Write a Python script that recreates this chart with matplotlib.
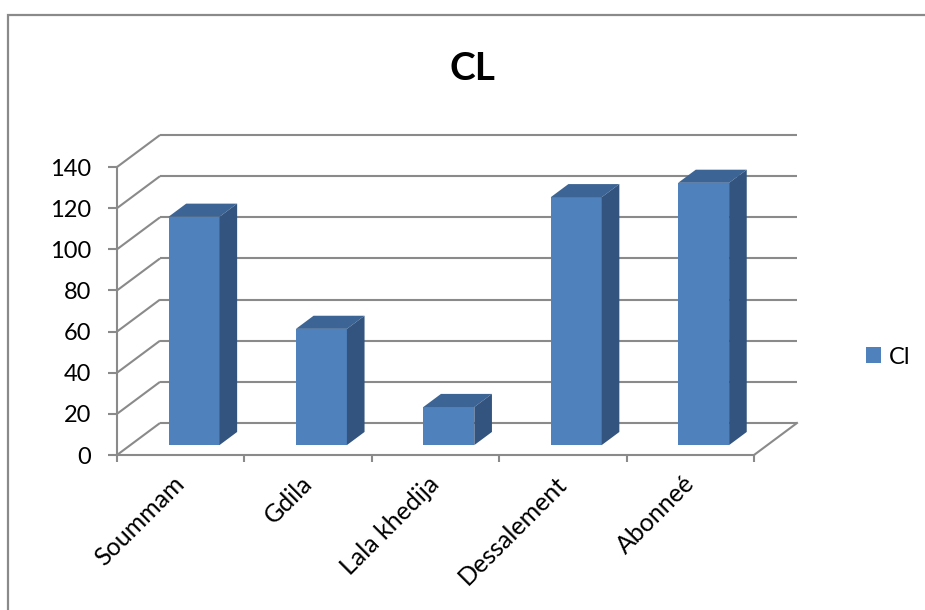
import matplotlib
matplotlib.use('Agg')
import matplotlib.pyplot as plt
from matplotlib.patches import Polygon, Patch, Rectangle
import numpy as np

# ---- data ----
categories = ['Soummam', 'Gdila', 'Lala khedija', 'Dessalement', 'Abonneé']
values = [111, 56.5, 18.5, 120.5, 127.5]
series_name = 'Cl'
title = 'CL'
yticks = [0, 20, 40, 60, 80, 100, 120, 140]

plt.rcParams['font.family'] = ['Lato', 'DejaVu Sans']

W, H = 925, 610
fig = plt.figure(figsize=(W / 100, H / 100), dpi=100)

cat_px = 127.4      # pixels per category
val_px = 2.057      # pixels per value unit
x0, x1 = -0.5, 4.9
y0, y1 = 0, 160
ax = fig.add_axes([117 / W, 155 / H, (x1 - x0) * cat_px / W, (y1 - y0) * val_px / H])
ax.set_xlim(x0, x1)
ax.set_ylim(y0, y1)
ax.patch.set_visible(False)

grid_c = '#8A8A8A'
lw = 1.5
DX = 43 / cat_px     # full depth offset in category units
DY = 32 / val_px     # full depth offset in value units
f0, f1 = 0.31, 0.72  # bar front/back depth fractions
n = len(categories)
left_edge, right_edge = -0.5, n - 0.5

# walls / gridlines
for v in yticks:
    ax.plot([left_edge, left_edge + DX], [v, v + DY], color=grid_c, lw=lw, zorder=1,
            solid_capstyle='butt', clip_on=False)
    ax.plot([left_edge + DX, right_edge + DX], [v + DY, v + DY], color=grid_c, lw=lw,
            zorder=1, solid_capstyle='butt', clip_on=False)
# floor right edge
ax.plot([right_edge, right_edge + DX], [0, DY], color=grid_c, lw=lw, zorder=1, clip_on=False)

# bars
front_c = '#4F81BD'
top_c = '#3C6494'
side_c = '#32547F'
xs = np.arange(n) + f0 * DX
bw = 0.4
bottom = f0 * DY
ax.bar(xs, values, width=bw, bottom=bottom, color=front_c, zorder=3)
ddx = (f1 - f0) * DX
ddy = (f1 - f0) * DY
for x, v in zip(xs, values):
    xl, xr = x - bw / 2, x + bw / 2
    t = bottom + v
    ax.add_patch(Polygon([(xl, t), (xr, t), (xr + ddx, t + ddy), (xl + ddx, t + ddy)],
                         closed=True, facecolor=top_c, edgecolor='none', zorder=3))
    ax.add_patch(Polygon([(xr, bottom), (xr + ddx, bottom + ddy), (xr + ddx, t + ddy), (xr, t)],
                         closed=True, facecolor=side_c, edgecolor='none', zorder=3))

# spines
for s in ['top', 'right']:
    ax.spines[s].set_visible(False)
ax.spines['left'].set_bounds(0, 140)
ax.spines['bottom'].set_bounds(left_edge, right_edge)
for s in ['left', 'bottom']:
    ax.spines[s].set_color(grid_c)
    ax.spines[s].set_linewidth(lw)
    ax.spines[s].set_zorder(2)

ax.set_yticks(yticks)
ax.set_yticklabels([str(v) for v in yticks])
ax.tick_params(axis='y', length=6.5, width=lw, color=grid_c, labelsize=17, pad=12)

ax.set_xticks(np.arange(left_edge, right_edge + 0.01, 1))
ax.set_xticklabels([''] * (n + 1))
ax.tick_params(axis='x', which='major', length=5, width=lw, color=grid_c)
ax.set_xticks(np.arange(n), minor=True)
ax.set_xticklabels(categories, minor=True, rotation=45, ha='right', va='center',
                   rotation_mode='anchor', fontsize=18)
ax.tick_params(axis='x', which='minor', length=0, pad=18)

# title
fig.text(472 / W, 1 - 80 / H, title, ha='center', va='baseline', fontsize=28,
         fontweight='bold')

# legend
fig.legend(handles=[Patch(facecolor=front_c, edgecolor='none', label=series_name)],
           loc='center left', bbox_to_anchor=(866 / W, 1 - 357 / H), frameon=False,
           fontsize=17, handlelength=0.65, handleheight=0.65, handletextpad=0.3,
           borderpad=0, borderaxespad=0)

# outer chart border
fig.add_artist(Rectangle((7.5 / W, -0.1), 1.2, 1.1 - 15.5 / H, transform=fig.transFigure,
                         facecolor='none', edgecolor='#8A8A8A', lw=1.6))

fig.savefig('out.png', dpi=100)
